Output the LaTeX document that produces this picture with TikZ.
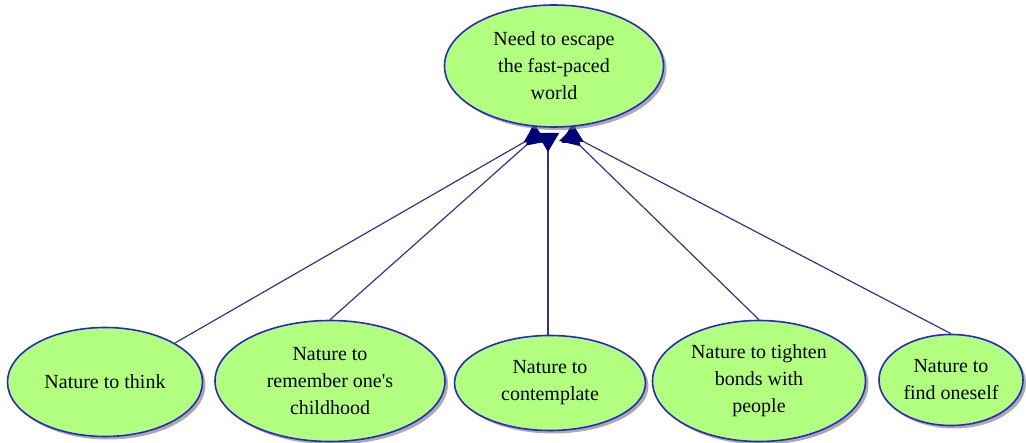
\documentclass[tikz,border=0pt]{standalone}
\usepackage{fontspec}
\setmainfont{Liberation Serif}[Ligatures=TeXOff]
\usetikzlibrary{shapes.geometric,shadows,arrows.meta,backgrounds}
\definecolor{nodefill}{RGB}{178,255,128}
\definecolor{nodeborder}{RGB}{40,40,200}
\definecolor{edgecol}{RGB}{50,50,150}
\definecolor{tipcol}{RGB}{0,0,120}
\tikzset{
  bubble/.style={ellipse, draw=nodeborder, line width=1.6pt, fill=nodefill, inner sep=0pt, align=center,
    font=\fontsize{20}{27}\selectfont,
    drop shadow={shadow xshift=3pt, shadow yshift=-3pt, fill=black!55, opacity=0.6}},
  link/.style={draw=edgecol, line width=1.2pt, -{Triangle[reversed,length=19pt,width=22pt,fill=tipcol,color=tipcol]}}
}
\begin{document}
\begin{tikzpicture}[x=1pt,y=-1pt]
\useasboundingbox (0,0) rectangle (1026,443);
\node[bubble, minimum width=219pt, minimum height=122pt] (top) at (554,66) {Need to escape\\the fast-paced\\world};
\node[bubble, minimum width=195pt, minimum height=109pt] (n1) at (105,382) {Nature to think};
\node[bubble, minimum width=230pt, minimum height=121pt] (n2) at (330,381) {Nature to\\remember one's\\childhood};
\node[bubble, minimum width=191pt, minimum height=95pt] (n3) at (550,383) {Nature to\\contemplate};
\node[bubble, minimum width=213pt, minimum height=121pt] (n4) at (759,381) {Nature to tighten\\bonds with\\people};
\node[bubble, minimum width=144pt, minimum height=91pt] (n5) at (951,380) {Nature to\\find oneself};
\coordinate (tipL) at (540,133);
\coordinate (tipM) at (548,133);
\coordinate (tipR) at (567,133);
\coordinate (s3) at (548,336);
\coordinate (s1) at (175,343);
\begin{scope}[on background layer]
\draw[link] (s1) -- (tipL);
\draw[link] (n2.north) -- (tipL);
\draw[link] (s3) -- (tipM);
\draw[link] (n4.north) -- (tipR);
\draw[link] (n5.north) -- (tipR);
\end{scope}
\end{tikzpicture}
\end{document}
